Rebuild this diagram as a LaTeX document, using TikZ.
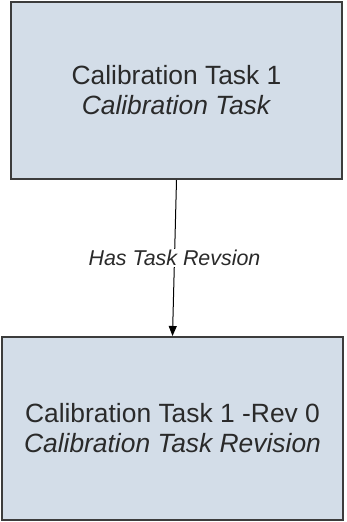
\documentclass[tikz,border=0pt]{standalone}
\usepackage{fontspec}
\setmainfont{Liberation Sans}
\usetikzlibrary{arrows.meta}
\definecolor{boxfill}{HTML}{D3DDE8}
\definecolor{boxline}{HTML}{3C3C3C}
\definecolor{txt}{HTML}{2A2A2A}
\begin{document}
\begin{tikzpicture}[x=1bp,y=-1bp,
  entity/.style={draw=boxline,fill=boxfill,line width=2bp,inner sep=0pt,
    align=center,text=txt,font=\fontsize{26.5}{30}\selectfont},
  lbl/.style={fill=white,inner sep=1.5bp,text=txt,font=\fontsize{21.5}{24}\selectfont\itshape},
  conn/.style={draw=black,line width=1bp,-{Triangle[length=10bp,width=8bp]}}]
\useasboundingbox (0,0) rectangle (346,522);
\node[entity,minimum width=331bp,minimum height=177bp] (task) at (176.5,90.5)
  {Calibration Task 1\\\textit{Calibration Task}};
\node[entity,minimum width=341bp,minimum height=183bp] (rev) at (172.5,428.5)
  {Calibration Task 1 -Rev 0\\\textit{Calibration Task Revision}};
\draw[conn] (task.south) -- node[lbl] (l) {Has Task Revsion} (rev.north);
\end{tikzpicture}
\end{document}
